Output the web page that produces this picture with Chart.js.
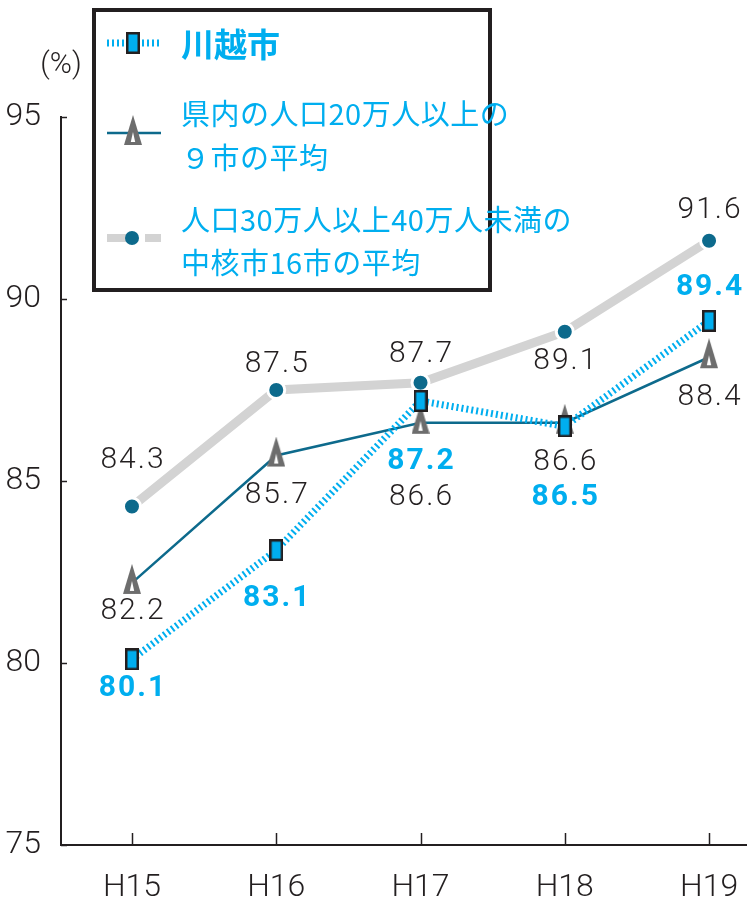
<!DOCTYPE html>
<html lang="ja">
<head>
<meta charset="UTF-8">
<script src="https://cdn.jsdelivr.net/npm/chart.js@4.4.1/dist/chart.umd.min.js"></script>
<style>
    html, body { margin: 0; padding: 0; background: #fff; }
    #wrap { width: 747px; height: 901px; }
</style>
</head>
<body>
<div id="wrap"><canvas id="chartCanvas" width="747" height="901"></canvas></div>
<script>
// データ
const categories = ['H15', 'H16', 'H17', 'H18', 'H19'];
const kawagoe = [80.1, 83.1, 87.2, 86.5, 89.4];
const kennai = [82.2, 85.7, 86.6, 86.6, 88.4];
const chukaku = [84.3, 87.5, 87.7, 89.1, 91.6];
const yTicks = [75, 80, 85, 90, 95];
const unitLabel = '(%)';
const legendLines = [
    ['川越市'],
    ['県内の人口20万人以上の', '９市の平均'],
    ['人口30万人以上40万人未満の', '中核市16市の平均']
];

// 値ラベルの縦位置(点からのずれ)
const labelShift = [
    [29, 48, 61, 71, -33],
    [29, 40, 75, 40, 40],
    [-46, -26, -28, 30, -30]
];

const BLUE = '#00aeef';
const TEAL = '#0d6a8c';
const GRAY_LINE = '#d3d3d3';
const GRAY_MARK = '#6d6d6d';
const INK = '#231f20';
const NUM_FONT = 'Roboto, "Liberation Sans", sans-serif';
const JP_FONT = '"Noto Sans CJK JP", sans-serif';

// マーカー
function makeSquare() {
    const c = document.createElement('canvas');
    c.width = 14; c.height = 22;
    const g = c.getContext('2d');
    g.fillStyle = BLUE;
    g.fillRect(1.25, 1.25, 11.5, 19.5);
    g.strokeStyle = INK;
    g.lineWidth = 2.5;
    g.strokeRect(1.25, 1.25, 11.5, 19.5);
    return c;
}
function makeTriangle() {
    const c = document.createElement('canvas');
    c.width = 18; c.height = 38;
    const g = c.getContext('2d');
    g.fillStyle = GRAY_MARK;
    g.beginPath();
    g.moveTo(9, 0); g.lineTo(18, 30); g.lineTo(0, 30); g.closePath();
    g.fill();
    g.fillStyle = '#fff';
    g.beginPath();
    g.moveTo(9, 17); g.lineTo(11.2, 27); g.lineTo(6.8, 27); g.closePath();
    g.fill();
    return c;
}
const squareImg = makeSquare();
const triImg = makeTriangle();

const toPoints = arr => arr.map((v, i) => ({ x: i, y: v }));

// 内向きの目盛り
const innerTicks = {
    id: 'innerTicks',
    afterDraw(chart) {
        const ctx = chart.ctx;
        const xs = chart.scales.x, ys = chart.scales.y;
        const area = chart.chartArea;
        ctx.save();
        ctx.strokeStyle = INK;
        ctx.lineWidth = 1.5;
        ys.ticks.forEach(t => {
            const y = Math.round(ys.getPixelForValue(t.value)) + 0.5;
            ctx.beginPath();
            ctx.moveTo(area.left, y);
            ctx.lineTo(area.left + 6, y);
            ctx.stroke();
        });
        xs.ticks.forEach(t => {
            const x = Math.round(xs.getPixelForValue(t.value)) + 0.5;
            ctx.beginPath();
            ctx.moveTo(x, area.bottom);
            ctx.lineTo(x, area.bottom - 12);
            ctx.stroke();
        });
        // 単位
        ctx.fillStyle = INK;
        ctx.font = '300 30px ' + NUM_FONT;
        ctx.textAlign = 'center';
        ctx.textBaseline = 'middle';
        ctx.fillText(unitLabel, area.left, 65);
        ctx.restore();
    }
};

// 値ラベル
const valueLabels = {
    id: 'valueLabels',
    afterDatasetsDraw(chart) {
        const ctx = chart.ctx;
        ctx.save();
        ctx.textAlign = 'center';
        ctx.textBaseline = 'middle';
        ctx.letterSpacing = '2px';
        chart.data.datasets.forEach((ds, i) => {
            const meta = chart.getDatasetMeta(i);
            ctx.font = i === 0 ? '700 30px ' + NUM_FONT : '300 30px ' + NUM_FONT;
            ctx.fillStyle = i === 0 ? BLUE : INK;
            meta.data.forEach((pt, j) => {
                ctx.fillText(ds.data[j].y.toFixed(1), pt.x + 1, pt.y + labelShift[i][j]);
            });
        });
        ctx.restore();
    }
};

// 凡例
const boxLegend = {
    id: 'boxLegend',
    afterDraw(chart) {
        const ctx = chart.ctx;
        ctx.save();
        ctx.fillStyle = '#fff';
        ctx.fillRect(94, 10, 396, 280);
        ctx.strokeStyle = INK;
        ctx.lineWidth = 4;
        ctx.strokeRect(94, 10, 396, 280);

        // 川越市
        ctx.strokeStyle = BLUE;
        ctx.lineWidth = 7;
        ctx.setLineDash([2, 3]);
        ctx.beginPath(); ctx.moveTo(107, 43); ctx.lineTo(161, 43); ctx.stroke();
        ctx.setLineDash([]);
        ctx.fillStyle = '#fff';
        ctx.fillRect(124, 30, 18, 26);
        ctx.drawImage(squareImg, 126, 32);

        // 県内
        ctx.strokeStyle = TEAL;
        ctx.lineWidth = 2.5;
        ctx.beginPath(); ctx.moveTo(107, 133); ctx.lineTo(161, 133); ctx.stroke();
        ctx.drawImage(triImg, 124, 115);

        // 中核市
        ctx.strokeStyle = GRAY_LINE;
        ctx.lineWidth = 8;
        ctx.beginPath(); ctx.moveTo(107, 238); ctx.lineTo(127, 238); ctx.stroke();
        ctx.beginPath(); ctx.moveTo(145, 238); ctx.lineTo(161, 238); ctx.stroke();
        ctx.fillStyle = TEAL;
        ctx.beginPath(); ctx.arc(132, 238, 7, 0, Math.PI * 2); ctx.fill();

        ctx.fillStyle = BLUE;
        ctx.textAlign = 'left';
        ctx.textBaseline = 'middle';
        ctx.font = '700 33px ' + JP_FONT;
        ctx.fillText(legendLines[0][0], 181, 44);
        ctx.font = '400 29px ' + JP_FONT;
        ctx.letterSpacing = '0.5px';
        ctx.fillText(legendLines[1][0], 181, 114);
        ctx.fillText(legendLines[1][1], 181, 158);
        ctx.fillText(legendLines[2][0], 181, 220);
        ctx.fillText(legendLines[2][1], 181, 263);
        ctx.restore();
    }
};

const ctx = document.getElementById('chartCanvas').getContext('2d');
const chart = new Chart(ctx, {
    type: 'line',
    data: {
        datasets: [
            {
                label: '川越市',
                data: toPoints(kawagoe),
                borderColor: BLUE,
                borderWidth: 7,
                borderDash: [2, 3],
                pointStyle: squareImg,
                fill: false
            },
            {
                label: '県内の人口20万人以上の９市の平均',
                data: toPoints(kennai),
                borderColor: TEAL,
                borderWidth: 2.5,
                pointStyle: triImg,
                fill: false
            },
            {
                label: '人口30万人以上40万人未満の中核市16市の平均',
                data: toPoints(chukaku),
                borderColor: GRAY_LINE,
                borderWidth: 9,
                pointStyle: 'circle',
                pointRadius: 8.5,
                pointBackgroundColor: TEAL,
                pointBorderColor: '#fff',
                pointBorderWidth: 3,
                fill: false
            }
        ]
    },
    options: {
        responsive: false,
        animation: false,
        devicePixelRatio: 1,
        layout: { autoPadding: false, padding: { top: 117, right: 0, left: 0, bottom: 0 } },
        plugins: {
            legend: { display: false },
            tooltip: { enabled: false }
        },
        scales: {
            x: {
                type: 'linear',
                min: -0.492,
                max: 4.263,
                afterBuildTicks: s => { s.ticks = categories.map((c, i) => ({ value: i })); },
                afterFit: s => { s.height = 56; s.paddingLeft = 0; s.paddingRight = 0; },
                grid: { display: false },
                border: { display: true, color: INK, width: 2 },
                ticks: {
                    color: INK,
                    padding: 16,
                    font: { family: NUM_FONT, size: 32, weight: 300 },
                    callback: v => categories[v]
                }
            },
            y: {
                min: 75,
                max: 95,
                afterBuildTicks: s => { s.ticks = yTicks.map(v => ({ value: v })); },
                afterFit: s => { s.width = 61; s.paddingTop = 0; s.paddingBottom = 0; },
                grid: { display: false },
                border: { display: true, color: INK, width: 2 },
                ticks: {
                    color: INK,
                    padding: 12,
                    font: { family: NUM_FONT, size: 32, weight: 300 }
                }
            }
        }
    },
    plugins: [innerTicks, valueLabels, boxLegend]
});
</script>
</body>
</html>
